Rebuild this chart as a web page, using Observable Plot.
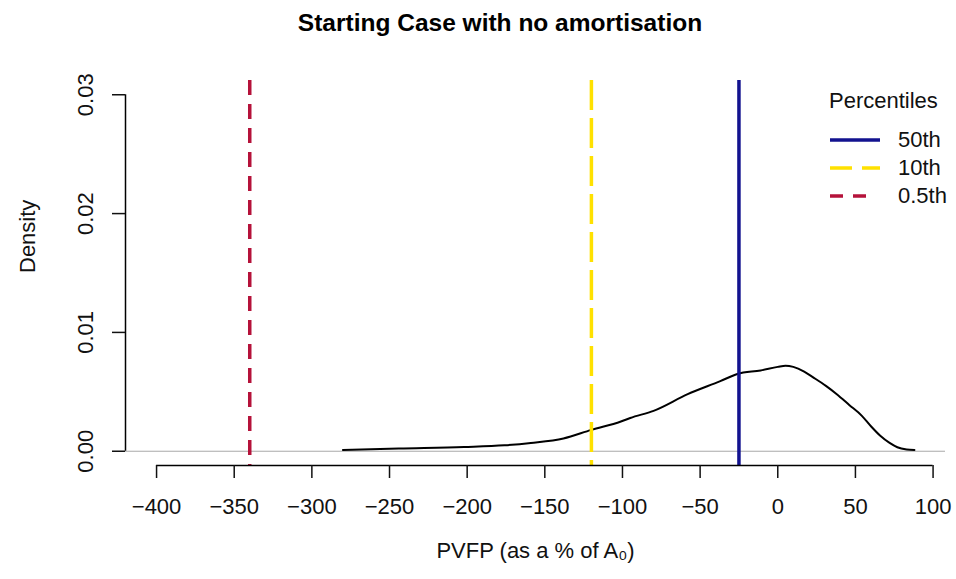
<!DOCTYPE html>
<html>
<head>
<meta charset="utf-8">
<script src="https://cdn.jsdelivr.net/npm/d3@7"></script>
<script src="https://cdn.jsdelivr.net/npm/@observablehq/plot@0.6"></script>
<style>
  body { margin: 0; background: white; font-family: "Liberation Sans", Arial, sans-serif; }
  #wrap { position: relative; width: 956px; height: 579px; }
  #title { height: 46px; line-height: 46px; text-align: center; font-weight: bold; font-size: 24.5px; padding-left: 44px; box-sizing: border-box; }
  #legend { position: absolute; left: 829px; top: 88px; font-size: 22px; color: #111; }
  #legend .row { display: flex; align-items: center; height: 28px; }
  #legend .row span { margin-left: 17px; }
</style>
</head>
<body>
<div id="wrap">
  <div id="title">Starting Case with no amortisation</div>
  <div id="chart"></div>
  <div id="legend"></div>
</div>
<script>
// density curve
const pvfp    = [-280, -244, -202, -176, -159, -138, -120, -101, -95, -80, -58, -37, -26, -11, 0, 5, 10, 17, 23, 31, 38, 46, 54, 60, 66, 72, 77, 83, 88];
const density = [0.0001, 0.00023, 0.00036, 0.0005, 0.0007, 0.00107, 0.0018, 0.0025, 0.0028, 0.0034, 0.0048, 0.0059, 0.0065, 0.0068, 0.0071, 0.0072, 0.0071, 0.0067, 0.0062, 0.0055, 0.0048, 0.0039, 0.0030, 0.0021, 0.0013, 0.0007, 0.00034, 0.00015, 0.0001];

// percentile lines
const pctNames  = ["50th", "10th", "0.5th"];
const pctValues = [-25, -120, -340];
const pctColors = ["#12128f", "#ffe100", "#b5123a"];
const pctDash   = [null, "30,8", "15,9"];

const xTicks = [-400, -350, -300, -250, -200, -150, -100, -50, 0, 50, 100];
const yTicks = [0, 0.01, 0.02, 0.03];
const xDomain = [-420, 108];
const yDomain = [-0.0012, 0.0312];

const curve = pvfp.map((x, i) => ({x, y: density[i]}));
const pcts = pctNames.map((name, i) => ({name, x: pctValues[i], color: pctColors[i], dash: pctDash[i]}));

const chart = Plot.plot({
  width: 956,
  height: 533,
  marginTop: 34,
  marginBottom: 114,
  marginLeft: 125,
  marginRight: 11,
  style: {fontFamily: "Liberation Sans, Arial, sans-serif", fontSize: "22px", color: "#111"},
  x: {domain: xDomain},
  y: {domain: yDomain},
  marks: [
    Plot.ruleY([0], {stroke: "#a8a8a8", strokeWidth: 1}),
    Plot.line(curve, {x: "x", y: "y", stroke: "black", strokeWidth: 2, curve: "monotone-x"}),
    // drawn one by one so each keeps its own dash
    ...pcts.slice().reverse().map(p =>
      Plot.ruleX([p.x], {stroke: p.color, strokeWidth: 3.5, strokeDasharray: p.dash})
    ),
    // axis lines only between first and last tick, like base R
    Plot.ruleY([yDomain[0]], {x1: xTicks[0], x2: xTicks[xTicks.length - 1], stroke: "black", strokeWidth: 1.5}),
    Plot.ruleX([xDomain[0]], {y1: yTicks[0], y2: yTicks[yTicks.length - 1], stroke: "black", strokeWidth: 1.5}),
    Plot.axisX({ticks: xTicks, tickSize: 13, tickPadding: 20, label: null, strokeWidth: 1.5, fontSize: 22}),
    Plot.axisY({ticks: yTicks, tickSize: 13, tickFormat: () => "", label: null, strokeWidth: 1.5}),
    Plot.text(yTicks, {x: xDomain[0], y: d => d, text: d3.format(".2f"), rotate: -90, dx: -40, fontSize: 22}),
    Plot.text(["Density"], {frameAnchor: "left", dx: -98, rotate: -90, fontSize: 22}),
    Plot.text(["PVFP (as a % of A\u2080)"], {frameAnchor: "bottom", dy: 92, fontSize: 22})
  ]
});

d3.select("#chart").append(() => chart);

// legend in the top-right corner
const legend = d3.select("#legend");
legend.append("div").style("margin-bottom", "12px").text("Percentiles");
pcts.forEach(p => {
  const row = legend.append("div").attr("class", "row");
  const s = row.append("svg").attr("width", 52).attr("height", 8);
  s.append("line").attr("x1", 1).attr("x2", p.name === "0.5th" ? 37 : 51).attr("y1", 4).attr("y2", 4)
    .attr("stroke", p.color).attr("stroke-width", 3.5)
    .attr("stroke-dasharray", p.dash == null ? null : (p.name === "10th" ? "22,10" : "13,10"));
  row.append("span").text(p.name);
});
</script>
</body>
</html>
